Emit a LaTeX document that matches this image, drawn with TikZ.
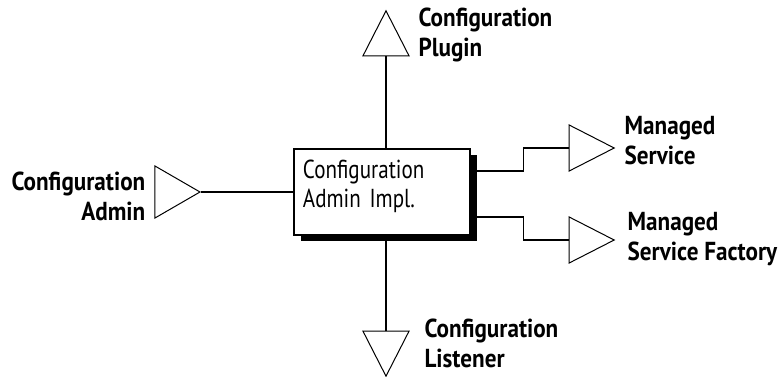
\documentclass[tikz,border=0pt]{standalone}
\usepackage{fontspec}
\setmainfont{PT Sans}[FakeStretch=0.81, BoldFeatures={FakeStretch=0.89}]
\usetikzlibrary{shapes.geometric,positioning,shadows}

\begin{document}
\begin{tikzpicture}[
    impl/.style={
        rectangle,
        draw,
        line width=1.4pt,
        fill=white,
        align=left,
        text width=158pt,
        inner xsep=9pt,
        inner ysep=5pt,
        text height=24pt,
        text depth=52pt,
        font=\fontsize{26}{29}\selectfont,
        drop shadow={shadow xshift=7pt, shadow yshift=-6pt, fill=black, opacity=1}
    },
    iface/.style={
        isosceles triangle,
        isosceles triangle stretches,
        draw,
        line width=1pt,
        fill=white,
        inner sep=0pt,
        minimum width=46pt,
        minimum height=45pt
    },
    tag/.style={font=\fontsize{26}{30}\selectfont\bfseries, inner sep=0pt},
    link/.style={line width=1.4pt}
]
    \useasboundingbox (-382pt,-184pt) rectangle (398pt,192pt);

    % Central implementation box - reference position
    \node[impl] (impl) {Configuration\\Admin Impl.};

    % Interface triangles placed around the box
    \node[iface, shape border rotate=90, above=92pt of impl.north, xshift=4pt] (plugin) {};
    \node[iface, shape border rotate=270, below=95pt of impl.south, xshift=4pt] (listener) {};
    \node[iface, minimum width=52pt, left=92pt of impl.west] (admin) {};
    \node[iface, right=98pt of impl.east, yshift=44pt] (service) {};
    \node[iface, right=98pt of impl.east, yshift=-48pt] (factory) {};

    % Interface names
    \node[tag, align=left, right=16pt of plugin, yshift=7pt] (pluginname) {Configuration\\Plugin};
    \node[tag, align=right, left=9pt of admin, yshift=-4pt] (adminname) {Configuration\\Admin};
    \node[tag, align=left, right=9pt of service, yshift=7pt] (servicename) {Managed\\Service};
    \node[tag, align=left, right=12pt of factory, yshift=1pt] (factoryname) {Managed\\Service Factory};
    \node[tag, align=left, right=22pt of listener, yshift=2pt] (listenername) {Configuration\\Listener};

    % Connect the box to each interface
    \draw[link] (plugin.south) -- (plugin.south |- impl.north);
    \draw[link] (listener.north) -- (listener.north |- impl.south);
    \draw[link] (admin.east) -- (admin.east -| impl.west);
    \draw[link] ([yshift=21pt]impl.east) -- ++(53pt,0) |- (service.west);
    \draw[link] ([yshift=-25pt]impl.east) -- ++(53pt,0) |- (factory.west);

\end{tikzpicture}
\end{document}
